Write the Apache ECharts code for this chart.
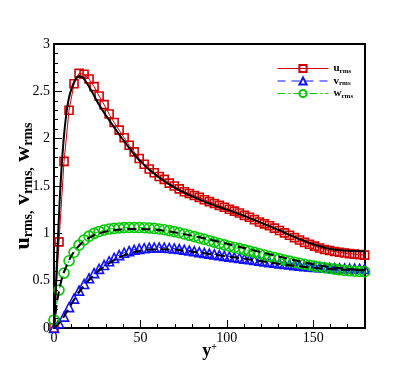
<!DOCTYPE html>
<html>
<head>
<meta charset="utf-8">
<script src="https://cdn.jsdelivr.net/npm/echarts@6/dist/echarts.min.js"></script>
<style>
html,body{margin:0;padding:0;background:#fff;}
#main{width:415px;height:369px;}
</style>
</head>
<body>
<div id="main"></div>
<script>
// y+ of the symbols
var yplus = [0, 2.9, 5.8, 8.7, 11.6, 14.5, 17.4, 20.3, 23.2, 26.1, 29.0, 31.9, 34.8, 37.7, 40.6, 43.5, 46.4, 49.3, 52.2, 55.1,
	58.0, 60.9, 63.8, 66.7, 69.6, 72.5, 75.4, 78.3, 81.2, 84.1, 87.0, 89.9, 92.8, 95.7, 98.6, 101.5, 104.4, 107.3, 110.2, 113.1,
	116.0, 118.9, 121.8, 124.7, 127.6, 130.5, 133.4, 136.3, 139.2, 142.1, 145.0, 147.9, 150.8, 153.7, 156.6, 159.5, 162.4, 165.3,
	168.2, 171.1, 174.0, 176.9, 179.8];

var urms = [0.0, 0.91, 1.76, 2.30, 2.58, 2.69, 2.68, 2.63, 2.55, 2.45, 2.36, 2.26, 2.17, 2.09, 2.01, 1.93, 1.86, 1.79, 1.73, 1.68,
	1.64, 1.60, 1.57, 1.53, 1.50, 1.47, 1.44, 1.42, 1.40, 1.38, 1.355, 1.335, 1.315, 1.295, 1.275, 1.255, 1.235, 1.215, 1.19, 1.17,
	1.145, 1.12, 1.10, 1.08, 1.055, 1.03, 1.005, 0.98, 0.955, 0.93, 0.905, 0.885, 0.865, 0.845, 0.83, 0.818, 0.808, 0.80,
	0.792, 0.786, 0.78, 0.775, 0.77];

var vrms = [0.0, 0.05, 0.12, 0.22, 0.31, 0.395, 0.465, 0.525, 0.58, 0.625, 0.665, 0.705, 0.74, 0.77, 0.795, 0.812, 0.826, 0.836, 0.843, 0.848,
	0.85, 0.85, 0.848, 0.845, 0.84, 0.834, 0.826, 0.818, 0.81, 0.802, 0.794, 0.786, 0.778, 0.77, 0.762, 0.754, 0.747, 0.74, 0.733, 0.726,
	0.719, 0.711, 0.703, 0.696, 0.689, 0.682, 0.676, 0.67, 0.664, 0.659, 0.654, 0.649, 0.645, 0.641, 0.638, 0.635, 0.633, 0.631,
	0.629, 0.628, 0.627, 0.626, 0.625];

var wrms = [0.085, 0.40, 0.58, 0.71, 0.80, 0.875, 0.93, 0.97, 1.0, 1.02, 1.035, 1.045, 1.052, 1.057, 1.06, 1.062, 1.062, 1.061, 1.059, 1.056,
	1.052, 1.046, 1.038, 1.029, 1.018, 1.006, 0.993, 0.979, 0.965, 0.951, 0.937, 0.922, 0.907, 0.892, 0.878, 0.864, 0.851, 0.838, 0.825, 0.812,
	0.799, 0.785, 0.771, 0.757, 0.744, 0.731, 0.718, 0.706, 0.695, 0.684, 0.673, 0.663, 0.654, 0.645, 0.637, 0.629, 0.622, 0.615,
	0.609, 0.604, 0.60, 0.597, 0.594];

// reference curves (black lines)
var refUx = [0, 1, 2, 3.5, 5.4, 7.4, 9.3, 12.2, 14.7, 17, 20.9, 26.7, 32.5, 38.3, 44, 50, 60, 70, 80, 90, 100, 110, 120, 130, 140, 150, 160, 170, 180];
var refU = [0, 0.4, 0.82, 1.42, 1.95, 2.30, 2.48, 2.62, 2.66, 2.64, 2.53, 2.34, 2.18, 2.03, 1.89, 1.76, 1.6, 1.48, 1.39, 1.315, 1.25, 1.185, 1.11, 1.035, 0.955, 0.885, 0.835, 0.815, 0.81];

var refVx = [0, 2, 5, 10, 15, 20, 25, 30, 35, 40, 45, 50, 55, 60, 70, 80, 90, 100, 110, 120, 130, 140, 150, 160, 170, 180];
var refV = [0, 0.03, 0.1, 0.25, 0.39, 0.5, 0.59, 0.66, 0.72, 0.765, 0.795, 0.815, 0.828, 0.832, 0.826, 0.806, 0.782, 0.757, 0.731, 0.704, 0.678, 0.655, 0.636, 0.622, 0.614, 0.61];

var refWx = [0, 2, 5, 10, 15, 20, 25, 30, 40, 50, 60, 70, 80, 90, 100, 110, 120, 130, 140, 150, 160, 170, 180];
var refW = [0, 0.3, 0.55, 0.76, 0.88, 0.95, 0.995, 1.02, 1.043, 1.047, 1.035, 1.01, 0.975, 0.935, 0.89, 0.845, 0.8, 0.755, 0.712, 0.673, 0.643, 0.622, 0.612];

var names = ['u_rms', 'v_rms', 'w_rms'];
var symbolColors = ['#d40000', '#1010ff', '#00c800'];

function pairs(xs, ys) {
	var out = new Array();
	for (var k in ys) {
		out[k] = [xs[k], ys[k]];
	}
	return out;
}

function symbolSeries(name, data, symbol, size, col, dash) {
	return {
		name: name,
		type: 'line',
		data: data,
		symbol: symbol,
		symbolSize: size,
		showAllSymbol: true,
		lineStyle: { color: col, width: 1, type: dash },
		itemStyle: { color: 'rgba(0,0,0,0)', borderColor: col, borderWidth: 1.6 },
		z: 2
	};
}

function refSeries(data, dash) {
	return {
		type: 'line',
		data: data,
		symbol: 'none',
		smooth: 0.3,
		lineStyle: { color: '#000', width: 2, type: dash },
		z: 5
	};
}

var serif = '"Liberation Serif", "DejaVu Serif", serif';

var myChart = echarts.init(document.getElementById('main'));
var option = {
	animation: false,
	backgroundColor: '#fff',
	grid: {
		left: 54, right: 50, top: 44, bottom: 41,
		outerBoundsMode: 'none',
		containLabel: false,
		show: true, borderColor: '#000', borderWidth: 2, backgroundColor: 'transparent'
	},
	legend: {
		data: names,
		orient: 'vertical',
		left: 272,
		top: 58,
		itemWidth: 51,
		itemHeight: 9,
		itemGap: 1,
		lineStyle: { width: 1, color: 'inherit', type: 'inherit' },
		formatter: function (n) {
			return '{a|' + n.charAt(0) + '}{b|rms}';
		},
		textStyle: {
			rich: {
				a: { fontFamily: serif, fontWeight: 'bold', fontSize: 11, color: '#000' },
				b: { fontFamily: serif, fontWeight: 'bold', fontSize: 7, color: '#000', padding: [5, 0, 0, 0] }
			}
		}
	},
	xAxis: [
		{
			type: 'value', min: 0, max: 180, interval: 50,
			name: '{a|y}{b|+}',
			nameLocation: 'middle',
			nameGap: 14,
			nameMoveOverlap: false,
			nameTextStyle: {
				rich: {
					a: { fontFamily: serif, fontWeight: 'bold', fontSize: 18, color: '#000' },
					b: { fontFamily: serif, fontWeight: 'bold', fontSize: 10, color: '#000', padding: [0, 0, 9, 0] }
				}
			},
			axisLine: { lineStyle: { color: '#000', width: 2 } },
			axisTick: { inside: true, length: 8, lineStyle: { color: '#000', width: 1 } },
			axisLabel: { showMaxLabel: false, color: '#000', fontFamily: serif, fontSize: 14, margin: 3 },
			splitLine: { show: false }
		},
		{
			type: 'value', min: 0, max: 180, interval: 10, position: 'bottom',
			axisLine: { show: false },
			axisTick: { inside: true, length: 4, lineStyle: { color: '#000', width: 1 } },
			axisLabel: { show: false },
			splitLine: { show: false }
		}
	],
	yAxis: {
		type: 'value', min: 0, max: 3, interval: 0.5,
		name: '{a|u}{b|rms,}{a| v}{b|rms,}{a| w}{b|rms}',
		nameLocation: 'middle',
		nameGap: 19,
		nameMoveOverlap: false,
		nameTextStyle: {
			rich: {
				a: { fontFamily: serif, fontWeight: 'bold', fontSize: 22, color: '#000' },
				b: { fontFamily: serif, fontWeight: 'bold', fontSize: 14, color: '#000', padding: [9, 0, 0, 0] }
			}
		},
		axisLine: { lineStyle: { color: '#000', width: 2 } },
		axisTick: { inside: true, length: 8, lineStyle: { color: '#000', width: 1 } },
		minorTick: { show: true, splitNumber: 5, length: 4, lineStyle: { color: '#000', width: 1 } },
		axisLabel: { color: '#000', fontFamily: serif, fontSize: 14, margin: 4 },
		splitLine: { show: false },
		minorSplitLine: { show: false }
	},
	series: [
		symbolSeries(names[0], pairs(yplus, urms), 'rect', 8, symbolColors[0], 'solid'),
		symbolSeries(names[1], pairs(yplus, vrms), 'triangle', 9, symbolColors[1], [8, 6]),
		symbolSeries(names[2], pairs(yplus, wrms), 'circle', 10, symbolColors[2], [8, 3, 2, 3]),
		refSeries(pairs(refUx, refU), 'solid'),
		refSeries(pairs(refVx, refV), [9, 5]),
		refSeries(pairs(refWx, refW), [9, 5])
	]
};
myChart.setOption(option);
</script>
</body>
</html>
